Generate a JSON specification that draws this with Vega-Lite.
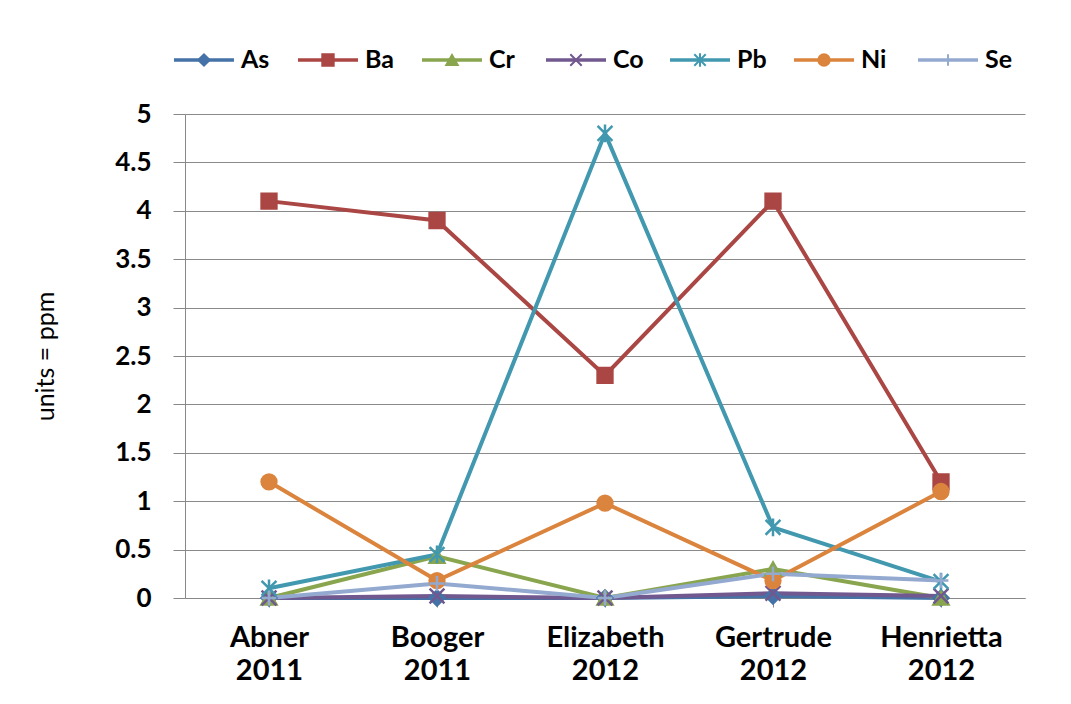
{
  "$schema": "https://vega.github.io/schema/vega-lite/v6.json",
  "autosize": {"type": "pad"},
  "padding": {"left": 33, "top": 48, "right": 47, "bottom": 10},
  "background": "white",
  "spacing": 42,
  "bounds": "flush",
  "config": {
    "font": "Lato",
    "view": {"stroke": null},
    "axis": {"labelFont": "Lato", "titleFont": "Lato", "labelColor": "#000", "titleColor": "#000"}
  },
  "resolve": {"scale": {"x": "independent", "y": "independent"}},
  "data": {
    "values": [
      {"site": "Abner 2011", "element": "As", "value": 0},
      {"site": "Booger 2011", "element": "As", "value": 0},
      {"site": "Elizabeth 2012", "element": "As", "value": 0},
      {"site": "Gertrude 2012", "element": "As", "value": 0.02},
      {"site": "Henrietta 2012", "element": "As", "value": 0},
      {"site": "Abner 2011", "element": "Ba", "value": 4.1},
      {"site": "Booger 2011", "element": "Ba", "value": 3.9},
      {"site": "Elizabeth 2012", "element": "Ba", "value": 2.3},
      {"site": "Gertrude 2012", "element": "Ba", "value": 4.1},
      {"site": "Henrietta 2012", "element": "Ba", "value": 1.2},
      {"site": "Abner 2011", "element": "Cr", "value": 0},
      {"site": "Booger 2011", "element": "Cr", "value": 0.43},
      {"site": "Elizabeth 2012", "element": "Cr", "value": 0},
      {"site": "Gertrude 2012", "element": "Cr", "value": 0.3},
      {"site": "Henrietta 2012", "element": "Cr", "value": 0},
      {"site": "Abner 2011", "element": "Co", "value": 0},
      {"site": "Booger 2011", "element": "Co", "value": 0.02},
      {"site": "Elizabeth 2012", "element": "Co", "value": 0},
      {"site": "Gertrude 2012", "element": "Co", "value": 0.05},
      {"site": "Henrietta 2012", "element": "Co", "value": 0.02},
      {"site": "Abner 2011", "element": "Pb", "value": 0.1},
      {"site": "Booger 2011", "element": "Pb", "value": 0.45},
      {"site": "Elizabeth 2012", "element": "Pb", "value": 4.8},
      {"site": "Gertrude 2012", "element": "Pb", "value": 0.73},
      {"site": "Henrietta 2012", "element": "Pb", "value": 0.17},
      {"site": "Abner 2011", "element": "Ni", "value": 1.2},
      {"site": "Booger 2011", "element": "Ni", "value": 0.18},
      {"site": "Elizabeth 2012", "element": "Ni", "value": 0.98},
      {"site": "Gertrude 2012", "element": "Ni", "value": 0.18},
      {"site": "Henrietta 2012", "element": "Ni", "value": 1.1},
      {"site": "Abner 2011", "element": "Se", "value": 0},
      {"site": "Booger 2011", "element": "Se", "value": 0.15},
      {"site": "Elizabeth 2012", "element": "Se", "value": 0},
      {"site": "Gertrude 2012", "element": "Se", "value": 0.25},
      {"site": "Henrietta 2012", "element": "Se", "value": 0.18}
    ]
  },
  "vconcat": [
    {
      "width": 782,
      "height": 24,
      "transform": [{"aggregate": [{"op": "count", "as": "n"}], "groupby": ["element"]}],
      "encoding": {
        "x": {
          "field": "element",
          "type": "nominal",
          "sort": ["As", "Ba", "Cr", "Co", "Pb", "Ni", "Se"],
          "scale": {"type": "point", "padding": 0.153},
          "axis": null
        },
        "stroke": {
          "field": "element",
          "type": "nominal",
          "scale": {
            "domain": ["As", "Ba", "Cr", "Co", "Pb", "Ni", "Se"],
            "range": ["#4572A7", "#AA4643", "#89A54E", "#71588F", "#4198AF", "#DB843D", "#93A9CF"]
          },
          "legend": null
        }
      },
      "layer": [
        {
          "mark": {"type": "point", "filled": false, "shape": "M-5,0L5,0", "size": 144, "strokeWidth": 3.5, "opacity": 1}
        },
        {
          "mark": {"type": "point", "filled": true, "size": 130, "strokeWidth": 2, "opacity": 1},
          "encoding": {
            "fill": {
              "field": "element",
              "type": "nominal",
              "scale": {
                "domain": ["As", "Ba", "Cr", "Co", "Pb", "Ni", "Se"],
                "range": ["#4572A7", "#AA4643", "#89A54E", "#71588F", "#4198AF", "#DB843D", "#93A9CF"]
              },
              "legend": null
            },
            "shape": {
              "field": "element",
              "type": "nominal",
              "scale": {
                "domain": ["As", "Ba", "Cr", "Co", "Pb", "Ni", "Se"],
                "range": ["diamond", "square", "triangle-up", "M-1,-1L1,1M-1,1L1,-1", "M-1,-1L1,1M-1,1L1,-1M0,-1.2L0,1.2", "circle", "M-1,0L1,0M0,-1L0,1"]
              },
              "legend": null
            }
          }
        },
        {
          "mark": {"type": "text", "align": "left", "baseline": "middle", "dx": 37, "fontSize": 25, "fontWeight": "bold", "font": "Lato", "color": "#000"},
          "encoding": {"text": {"field": "element"}, "stroke": {"value": null}}
        }
      ]
    },
    {
      "width": 840,
      "height": 484,
      "encoding": {
        "x": {
          "field": "site",
          "type": "nominal",
          "sort": null,
          "scale": {"paddingInner": 0, "paddingOuter": 0},
          "axis": {
            "title": null,
            "labelAngle": 0,
            "labelExpr": "split(datum.value, ' ')",
            "labelFontSize": 29,
            "labelFontWeight": "bold",
            "labelLineHeight": 33,
            "labelPadding": 16,
            "bandPosition": 0,
            "tickSize": 9,
            "tickColor": "#888",
            "domainColor": "#888",
            "grid": false
          }
        },
        "y": {
          "field": "value",
          "type": "quantitative",
          "scale": {"domain": [0, 5], "nice": false},
          "axis": {
            "title": "units = ppm",
            "titleFontSize": 25,
            "titleFontWeight": "normal",
            "titlePadding": 56,
            "values": [0, 0.5, 1, 1.5, 2, 2.5, 3, 3.5, 4, 4.5, 5],
            "format": "~g",
            "labelFontSize": 26,
            "labelFontWeight": "bold",
            "labelPadding": 22,
            "tickSize": 12,
            "tickColor": "#888",
            "domainColor": "#888",
            "gridColor": "#8a8a8a",
            "gridWidth": 1
          }
        },
        "stroke": {
          "field": "element",
          "type": "nominal",
          "scale": {
            "domain": ["As", "Ba", "Cr", "Co", "Pb", "Ni", "Se"],
            "range": ["#4572A7", "#AA4643", "#89A54E", "#71588F", "#4198AF", "#DB843D", "#93A9CF"]
          },
          "legend": null
        }
      },
      "layer": [
        {
          "mark": {"type": "line", "strokeWidth": 4},
          "encoding": {"detail": {"field": "element"}}
        },
        {
          "mark": {"type": "point", "filled": true, "opacity": 1, "strokeWidth": 2.5, "size": 220},
          "encoding": {
            "fill": {
              "field": "element",
              "type": "nominal",
              "scale": {
                "domain": ["As", "Ba", "Cr", "Co", "Pb", "Ni", "Se"],
                "range": ["#4572A7", "#AA4643", "#89A54E", "#71588F", "#4198AF", "#DB843D", "#93A9CF"]
              },
              "legend": null
            },
            "shape": {
              "field": "element",
              "type": "nominal",
              "scale": {
                "domain": ["As", "Ba", "Cr", "Co", "Pb", "Ni", "Se"],
                "range": ["diamond", "square", "triangle-up", "M-1,-1L1,1M-1,1L1,-1", "M-1,-1L1,1M-1,1L1,-1M0,-1.2L0,1.2", "circle", "M-1,0L1,0M0,-1L0,1"]
              },
              "legend": null
            }
          }
        }
      ]
    }
  ]
}
